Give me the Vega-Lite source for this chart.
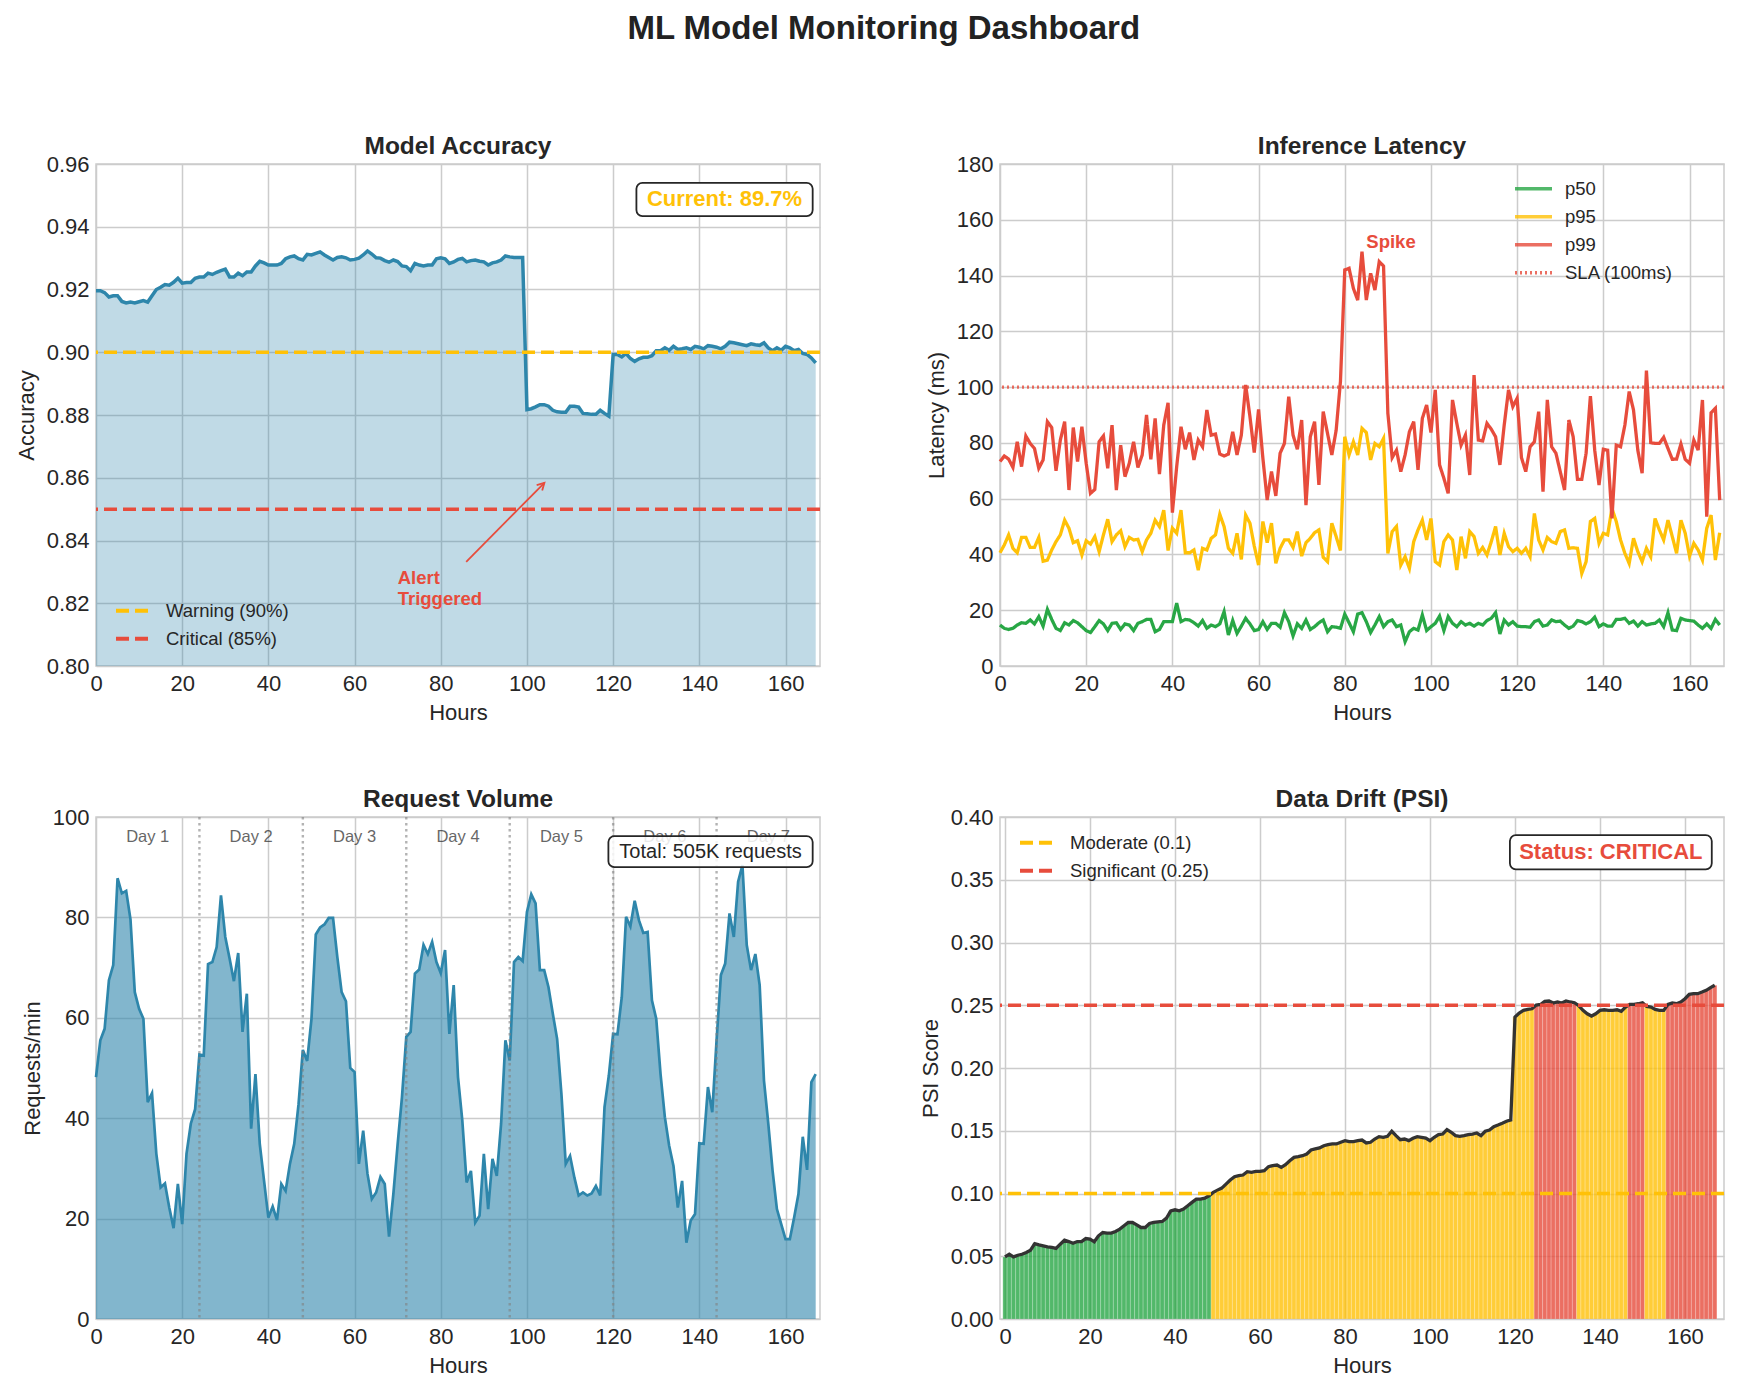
{
"$schema": "https://vega.github.io/schema/vega-lite/v6.json",
"background": "white",
"padding": {"left": 14, "top": 12, "right": 10, "bottom": 10},
"title": {"text": "ML Model Monitoring Dashboard", "fontSize": 33, "fontWeight": "bold", "color": "#222222", "anchor": "middle", "frame": "bounds", "baseline": "alphabetic", "offset": 61, "dx": 13},
"config": {
 "font": "Liberation Sans",
 "view": {"stroke": "#cccccc", "strokeWidth": 1.5},
 "axis": {"domain": false, "ticks": false, "grid": true, "gridColor": "#cccccc", "gridWidth": 1.5, "labelFontSize": 22, "labelColor": "#262626", "titleFontSize": 22, "titleFontWeight": "normal", "titleColor": "#262626", "labelPadding": 7, "titlePadding": 8, "labelFlush": false, "labelOverlap": false},
 "title": {"fontSize": 24.5, "fontWeight": "bold", "color": "#262626", "baseline": "alphabetic", "offset": -6, "anchor": "middle", "frame": "group"},
 "legend": {"labelFontSize": 18.5, "labelColor": "#262626", "symbolType": "stroke", "symbolSize": 1369, "symbolStrokeWidth": 4, "clipHeight": 25.5, "rowPadding": 2, "labelOffset": 11, "labelLimit": 0, "title": null, "padding": 0}
},
"resolve": {"scale": {"color": "independent", "strokeDash": "independent", "strokeWidth": "independent"}, "legend": {"color": "independent", "strokeDash": "independent", "strokeWidth": "independent"}},
"columns": 2,
"spacing": {"row": 151, "column": 180},
"bounds": "flush",
"datasets": {
"accuracy": [
{"hour":0,"accuracy":0.9196},{"hour":1,"accuracy":0.9196},{"hour":2,"accuracy":0.919},{"hour":3,"accuracy":0.9176},{"hour":4,"accuracy":0.918},{"hour":5,"accuracy":0.918},{"hour":6,"accuracy":0.9162},{"hour":7,"accuracy":0.9157},{"hour":8,"accuracy":0.916},{"hour":9,"accuracy":0.9157},
{"hour":10,"accuracy":0.9161},{"hour":11,"accuracy":0.9165},{"hour":12,"accuracy":0.916},{"hour":13,"accuracy":0.918},{"hour":14,"accuracy":0.92},{"hour":15,"accuracy":0.9207},{"hour":16,"accuracy":0.9216},{"hour":17,"accuracy":0.9214},{"hour":18,"accuracy":0.9223},{"hour":19,"accuracy":0.9236},
{"hour":20,"accuracy":0.922},{"hour":21,"accuracy":0.9222},{"hour":22,"accuracy":0.9222},{"hour":23,"accuracy":0.9236},{"hour":24,"accuracy":0.924},{"hour":25,"accuracy":0.924},{"hour":26,"accuracy":0.9252},{"hour":27,"accuracy":0.9248},{"hour":28,"accuracy":0.9255},{"hour":29,"accuracy":0.926},
{"hour":30,"accuracy":0.9265},{"hour":31,"accuracy":0.924},{"hour":32,"accuracy":0.924},{"hour":33,"accuracy":0.9252},{"hour":34,"accuracy":0.9244},{"hour":35,"accuracy":0.9256},{"hour":36,"accuracy":0.9256},{"hour":37,"accuracy":0.9275},{"hour":38,"accuracy":0.929},{"hour":39,"accuracy":0.9285},
{"hour":40,"accuracy":0.9278},{"hour":41,"accuracy":0.9278},{"hour":42,"accuracy":0.9278},{"hour":43,"accuracy":0.9283},{"hour":44,"accuracy":0.9298},{"hour":45,"accuracy":0.9304},{"hour":46,"accuracy":0.9307},{"hour":47,"accuracy":0.9298},{"hour":48,"accuracy":0.9294},{"hour":49,"accuracy":0.9312},
{"hour":50,"accuracy":0.931},{"hour":51,"accuracy":0.9315},{"hour":52,"accuracy":0.932},{"hour":53,"accuracy":0.931},{"hour":54,"accuracy":0.9302},{"hour":55,"accuracy":0.9294},{"hour":56,"accuracy":0.9302},{"hour":57,"accuracy":0.9304},{"hour":58,"accuracy":0.9301},{"hour":59,"accuracy":0.9294},
{"hour":60,"accuracy":0.9296},{"hour":61,"accuracy":0.93},{"hour":62,"accuracy":0.931},{"hour":63,"accuracy":0.9323},{"hour":64,"accuracy":0.9313},{"hour":65,"accuracy":0.9301},{"hour":66,"accuracy":0.93},{"hour":67,"accuracy":0.9292},{"hour":68,"accuracy":0.9287},{"hour":69,"accuracy":0.9294},
{"hour":70,"accuracy":0.9289},{"hour":71,"accuracy":0.9275},{"hour":72,"accuracy":0.9273},{"hour":73,"accuracy":0.926},{"hour":74,"accuracy":0.9283},{"hour":75,"accuracy":0.9278},{"hour":76,"accuracy":0.9275},{"hour":77,"accuracy":0.9278},{"hour":78,"accuracy":0.9278},{"hour":79,"accuracy":0.9298},
{"hour":80,"accuracy":0.9301},{"hour":81,"accuracy":0.9298},{"hour":82,"accuracy":0.9283},{"hour":83,"accuracy":0.9288},{"hour":84,"accuracy":0.9296},{"hour":85,"accuracy":0.9299},{"hour":86,"accuracy":0.9288},{"hour":87,"accuracy":0.9292},{"hour":88,"accuracy":0.9294},{"hour":89,"accuracy":0.929},
{"hour":90,"accuracy":0.9288},{"hour":91,"accuracy":0.9278},{"hour":92,"accuracy":0.9285},{"hour":93,"accuracy":0.9288},{"hour":94,"accuracy":0.9294},{"hour":95,"accuracy":0.9307},{"hour":96,"accuracy":0.9304},{"hour":97,"accuracy":0.9302},{"hour":98,"accuracy":0.9302},{"hour":99,"accuracy":0.9302},
{"hour":100,"accuracy":0.8817},{"hour":101,"accuracy":0.882},{"hour":102,"accuracy":0.8826},{"hour":103,"accuracy":0.8833},{"hour":104,"accuracy":0.8833},{"hour":105,"accuracy":0.8828},{"hour":106,"accuracy":0.8815},{"hour":107,"accuracy":0.881},{"hour":108,"accuracy":0.8809},{"hour":109,"accuracy":0.8809},
{"hour":110,"accuracy":0.8828},{"hour":111,"accuracy":0.8828},{"hour":112,"accuracy":0.8825},{"hour":113,"accuracy":0.8805},{"hour":114,"accuracy":0.8804},{"hour":115,"accuracy":0.8802},{"hour":116,"accuracy":0.8802},{"hour":117,"accuracy":0.8815},{"hour":118,"accuracy":0.8805},{"hour":119,"accuracy":0.8796},
{"hour":120,"accuracy":0.8993},{"hour":121,"accuracy":0.8993},{"hour":122,"accuracy":0.8985},{"hour":123,"accuracy":0.8996},{"hour":124,"accuracy":0.898},{"hour":125,"accuracy":0.8971},{"hour":126,"accuracy":0.8979},{"hour":127,"accuracy":0.8984},{"hour":128,"accuracy":0.8984},{"hour":129,"accuracy":0.8989},
{"hour":130,"accuracy":0.9005},{"hour":131,"accuracy":0.9005},{"hour":132,"accuracy":0.9014},{"hour":133,"accuracy":0.9006},{"hour":134,"accuracy":0.9019},{"hour":135,"accuracy":0.9009},{"hour":136,"accuracy":0.9011},{"hour":137,"accuracy":0.9014},{"hour":138,"accuracy":0.9009},{"hour":139,"accuracy":0.9019},
{"hour":140,"accuracy":0.9016},{"hour":141,"accuracy":0.9011},{"hour":142,"accuracy":0.9021},{"hour":143,"accuracy":0.9019},{"hour":144,"accuracy":0.9016},{"hour":145,"accuracy":0.9011},{"hour":146,"accuracy":0.9019},{"hour":147,"accuracy":0.9032},{"hour":148,"accuracy":0.903},{"hour":149,"accuracy":0.9027},
{"hour":150,"accuracy":0.9024},{"hour":151,"accuracy":0.9021},{"hour":152,"accuracy":0.9027},{"hour":153,"accuracy":0.9024},{"hour":154,"accuracy":0.9022},{"hour":155,"accuracy":0.903},{"hour":156,"accuracy":0.9014},{"hour":157,"accuracy":0.9005},{"hour":158,"accuracy":0.9014},{"hour":159,"accuracy":0.9006},
{"hour":160,"accuracy":0.9019},{"hour":161,"accuracy":0.9014},{"hour":162,"accuracy":0.9005},{"hour":163,"accuracy":0.9009},{"hour":164,"accuracy":0.8996},{"hour":165,"accuracy":0.8993},{"hour":166,"accuracy":0.8982},{"hour":167,"accuracy":0.8966}
],
"latency": [
{"hour":0,"p50":14.7,"p95":40.6,"p99":73.3},{"hour":1,"p50":13.5,"p95":43.4,"p99":75.3},{"hour":2,"p50":13.1,"p95":47,"p99":74.2},{"hour":3,"p50":13.5,"p95":42.2,"p99":71.2},{"hour":4,"p50":14.7,"p95":40.6,"p99":80.4},{"hour":5,"p50":15.5,"p95":46.1,"p99":71.5},{"hour":6,"p50":15.3,"p95":46.1,"p99":82.5},{"hour":7,"p50":16.5,"p95":42.5,"p99":79.8},{"hour":8,"p50":15.1,"p95":42.5,"p99":78},{"hour":9,"p50":17.7,"p95":46.1,"p99":70.9},
{"hour":10,"p50":14.3,"p95":37.6,"p99":73.9},{"hour":11,"p50":20.3,"p95":38,"p99":87.6},{"hour":12,"p50":16.7,"p95":41.6,"p99":85.5},{"hour":13,"p50":13.5,"p95":44.6,"p99":70},{"hour":14,"p50":12.7,"p95":47,"p99":81},{"hour":15,"p50":15.5,"p95":52.3,"p99":87.6},{"hour":16,"p50":14.7,"p95":49.4,"p99":63.1},{"hour":17,"p50":16.3,"p95":44.2,"p99":85.5},{"hour":18,"p50":15.5,"p95":44.9,"p99":73.3},{"hour":19,"p50":14.1,"p95":39.8,"p99":85.8},
{"hour":20,"p50":12.7,"p95":44.9,"p99":72.7},{"hour":21,"p50":12,"p95":43.7,"p99":61.9},{"hour":22,"p50":14.1,"p95":46.4,"p99":63.3},{"hour":23,"p50":16.3,"p95":41,"p99":80.4},{"hour":24,"p50":15.1,"p95":47,"p99":82.5},{"hour":25,"p50":12.7,"p95":52.6,"p99":70.9},{"hour":26,"p50":15.3,"p95":44.6,"p99":86.4},{"hour":27,"p50":15.5,"p95":47,"p99":63.1},{"hour":28,"p50":13.1,"p95":48.5,"p99":79.2},{"hour":29,"p50":15.1,"p95":42.8,"p99":67.9},
{"hour":30,"p50":14.7,"p95":46.1,"p99":72.7},{"hour":31,"p50":12.7,"p95":45.2,"p99":80.4},{"hour":32,"p50":15.3,"p95":45.4,"p99":71.2},{"hour":33,"p50":15.9,"p95":41,"p99":75.7},{"hour":34,"p50":16.7,"p95":45.2,"p99":90},{"hour":35,"p50":16.7,"p95":47.6,"p99":74.1},{"hour":36,"p50":12.3,"p95":52.3,"p99":88.8},{"hour":37,"p50":13.1,"p95":50,"p99":68.8},{"hour":38,"p50":15.9,"p95":55.9,"p99":86.4},{"hour":39,"p50":15.9,"p95":41.4,"p99":94.4},
{"hour":40,"p50":15.9,"p95":49.4,"p99":55},{"hour":41,"p50":22.5,"p95":47.6,"p99":71.5},{"hour":42,"p50":15.9,"p95":55.9,"p99":85.8},{"hour":43,"p50":16.7,"p95":40.6,"p99":77.7},{"hour":44,"p50":16.5,"p95":40.6,"p99":83.7},{"hour":45,"p50":15.5,"p95":41.6,"p99":73.9},{"hour":46,"p50":14.3,"p95":34.4,"p99":81},{"hour":47,"p50":16.3,"p95":42.2,"p99":78.6},{"hour":48,"p50":13.5,"p95":41.6,"p99":91.8},{"hour":49,"p50":14.7,"p95":45.8,"p99":82.8},
{"hour":50,"p50":14.1,"p95":47,"p99":83.2},{"hour":51,"p50":15.1,"p95":54.4,"p99":76},{"hour":52,"p50":19.5,"p95":50,"p99":75.3},{"hour":53,"p50":11.1,"p95":42.2,"p99":76},{"hour":54,"p50":16.3,"p95":40.4,"p99":84},{"hour":55,"p50":11.7,"p95":47.6,"p99":75.7},{"hour":56,"p50":14.3,"p95":38.2,"p99":82.8},{"hour":57,"p50":17.1,"p95":54.1,"p99":100.8},{"hour":58,"p50":15.1,"p95":51.2,"p99":89.4},{"hour":59,"p50":12.7,"p95":43,"p99":76.5},
{"hour":60,"p50":13.1,"p95":36.2,"p99":92},{"hour":61,"p50":15.9,"p95":51.8,"p99":74.5},{"hour":62,"p50":13.1,"p95":44.2,"p99":59.5},{"hour":63,"p50":15.3,"p95":51.2,"p99":69.7},{"hour":64,"p50":15.3,"p95":36.8,"p99":61},{"hour":65,"p50":13.9,"p95":42.2,"p99":76.3},{"hour":66,"p50":19.1,"p95":45.2,"p99":79.8},{"hour":67,"p50":15.9,"p95":45.2,"p99":96.6},{"hour":68,"p50":10.8,"p95":42.5,"p99":82.8},{"hour":69,"p50":15.1,"p95":48.2,"p99":77.7},
{"hour":70,"p50":13.5,"p95":39.4,"p99":88.2},{"hour":71,"p50":16.5,"p95":44.2,"p99":57.7},{"hour":72,"p50":13.1,"p95":45.8,"p99":82.2},{"hour":73,"p50":14.1,"p95":47.8,"p99":87.6},{"hour":74,"p50":15.5,"p95":48.8,"p99":64.9},{"hour":75,"p50":16.5,"p95":39,"p99":91.2},{"hour":76,"p50":12.3,"p95":37.4,"p99":83.4},{"hour":77,"p50":14.1,"p95":51.2,"p99":75.7},{"hour":78,"p50":13.9,"p95":46.4,"p99":84.5},{"hour":79,"p50":13.5,"p95":41.4,"p99":102},
{"hour":80,"p50":18.6,"p95":82.2,"p99":142},{"hour":81,"p50":15.5,"p95":75.7,"p99":142.6},{"hour":82,"p50":12.3,"p95":80.4,"p99":135.4},{"hour":83,"p50":18.6,"p95":75.7,"p99":131.2},{"hour":84,"p50":19.1,"p95":85.2,"p99":148.6},{"hour":85,"p50":15.9,"p95":83.7,"p99":131.2},{"hour":86,"p50":12,"p95":73.9,"p99":140.8},{"hour":87,"p50":14.7,"p95":79.8,"p99":134.8},{"hour":88,"p50":17.7,"p95":78.6,"p99":145},{"hour":89,"p50":14.1,"p95":81.6,"p99":143.4},
{"hour":90,"p50":15.9,"p95":40.4,"p99":90.6},{"hour":91,"p50":16.5,"p95":48.2,"p99":74.7},{"hour":92,"p50":14.1,"p95":50,"p99":77.4},{"hour":93,"p50":14.7,"p95":36.2,"p99":69.7},{"hour":94,"p50":8.7,"p95":39.2,"p99":75.7},{"hour":95,"p50":12.3,"p95":35,"p99":84},{"hour":96,"p50":13.5,"p95":44.6,"p99":87.6},{"hour":97,"p50":12.9,"p95":48.8,"p99":70.3},{"hour":98,"p50":18.3,"p95":52.3,"p99":88.8},{"hour":99,"p50":12.7,"p95":45.2,"p99":93.6},
{"hour":100,"p50":14.1,"p95":52.9,"p99":83.7},{"hour":101,"p50":15.3,"p95":37.4,"p99":99},{"hour":102,"p50":17.9,"p95":36.2,"p99":72.1},{"hour":103,"p50":12.7,"p95":44.6,"p99":67.3},{"hour":104,"p50":17.7,"p95":47,"p99":61.9},{"hour":105,"p50":15.3,"p95":45.2,"p99":95.4},{"hour":106,"p50":14.1,"p95":34.4,"p99":87},{"hour":107,"p50":15.9,"p95":46.4,"p99":79.2},{"hour":108,"p50":14.7,"p95":38.6,"p99":82.8},{"hour":109,"p50":15.3,"p95":48.2,"p99":68.5},
{"hour":110,"p50":14.3,"p95":46.4,"p99":104.3},{"hour":111,"p50":15.3,"p95":40.4,"p99":81},{"hour":112,"p50":14.7,"p95":42.5,"p99":80.7},{"hour":113,"p50":16.3,"p95":39.8,"p99":87},{"hour":114,"p50":17.1,"p95":44.6,"p99":84.9},{"hour":115,"p50":19.1,"p95":50,"p99":82.2},{"hour":116,"p50":11.5,"p95":39.8,"p99":72.1},{"hour":117,"p50":16.5,"p95":47.6,"p99":86.4},{"hour":118,"p50":14.7,"p95":42.8,"p99":99},{"hour":119,"p50":15.9,"p95":41,"p99":93},
{"hour":120,"p50":14.3,"p95":42.2,"p99":96},{"hour":121,"p50":14.1,"p95":40.4,"p99":74.7},{"hour":122,"p50":14.1,"p95":42.2,"p99":69.7},{"hour":123,"p50":13.9,"p95":39.2,"p99":78.6},{"hour":124,"p50":15.9,"p95":54.7,"p99":80.4},{"hour":125,"p50":16.5,"p95":45.2,"p99":91.2},{"hour":126,"p50":14.3,"p95":41.6,"p99":62.5},{"hour":127,"p50":14.7,"p95":46.1,"p99":95.4},{"hour":128,"p50":16.5,"p95":44.6,"p99":78.6},{"hour":129,"p50":15.9,"p95":44,"p99":76.3},
{"hour":130,"p50":16.1,"p95":48.2,"p99":69.7},{"hour":131,"p50":14.7,"p95":48.8,"p99":63.1},{"hour":132,"p50":13.5,"p95":42.2,"p99":88.2},{"hour":133,"p50":14.3,"p95":42.4,"p99":82.2},{"hour":134,"p50":16.3,"p95":42.2,"p99":66.9},{"hour":135,"p50":15.9,"p95":33.2,"p99":66.9},{"hour":136,"p50":15.1,"p95":37.4,"p99":76.3},{"hour":137,"p50":15.9,"p95":51.8,"p99":96.8},{"hour":138,"p50":17.5,"p95":52.9,"p99":77.4},{"hour":139,"p50":14.1,"p95":44,"p99":64.9},
{"hour":140,"p50":15.1,"p95":47.6,"p99":77.7},{"hour":141,"p50":14.3,"p95":47,"p99":77.4},{"hour":142,"p50":14.3,"p95":56.5,"p99":52.9},{"hour":143,"p50":16.7,"p95":51.8,"p99":79.2},{"hour":144,"p50":16.7,"p95":45.2,"p99":78.6},{"hour":145,"p50":17.1,"p95":40.4,"p99":86.4},{"hour":146,"p50":15.3,"p95":36.8,"p99":98.4},{"hour":147,"p50":16.1,"p95":45.8,"p99":91.8},{"hour":148,"p50":14.3,"p95":41,"p99":77.4},{"hour":149,"p50":15.9,"p95":37.4,"p99":69.1},
{"hour":150,"p50":14.7,"p95":42.2,"p99":105.9},{"hour":151,"p50":15.1,"p95":39.2,"p99":80.1},{"hour":152,"p50":15.3,"p95":52.9,"p99":79.8},{"hour":153,"p50":16.5,"p95":48.8,"p99":79.8},{"hour":154,"p50":14.1,"p95":45.2,"p99":82},{"hour":155,"p50":19.1,"p95":52.3,"p99":78},{"hour":156,"p50":12.9,"p95":46.4,"p99":74.1},{"hour":157,"p50":12.7,"p95":40.4,"p99":74.2},{"hour":158,"p50":17.1,"p95":52.3,"p99":79.6},{"hour":159,"p50":16.5,"p95":47.6,"p99":74.1},
{"hour":160,"p50":16.3,"p95":39.4,"p99":72.7},{"hour":161,"p50":16.1,"p95":44,"p99":81},{"hour":162,"p50":14.7,"p95":41.6,"p99":77.4},{"hour":163,"p50":13.5,"p95":38,"p99":95.4},{"hour":164,"p50":15.1,"p95":49.4,"p99":53.5},{"hour":165,"p50":13.5,"p95":54.1,"p99":90.8},{"hour":166,"p50":16.7,"p95":38,"p99":92.4},{"hour":167,"p50":14.7,"p95":47.8,"p99":59.5}
],
"requests": [
{"hour":0,"rpm":48.2},{"hour":1,"rpm":55.5},{"hour":2,"rpm":57.8},{"hour":3,"rpm":67.5},{"hour":4,"rpm":70.5},{"hour":5,"rpm":87.8},{"hour":6,"rpm":84.8},{"hour":7,"rpm":85.3},{"hour":8,"rpm":79.6},{"hour":9,"rpm":65.1},
{"hour":10,"rpm":61.8},{"hour":11,"rpm":59.8},{"hour":12,"rpm":43.2},{"hour":13,"rpm":45},{"hour":14,"rpm":32.9},{"hour":15,"rpm":26.2},{"hour":16,"rpm":27},{"hour":17,"rpm":22.2},{"hour":18,"rpm":18.1},{"hour":19,"rpm":26.9},
{"hour":20,"rpm":18.9},{"hour":21,"rpm":32.9},{"hour":22,"rpm":38.9},{"hour":23,"rpm":41.8},{"hour":24,"rpm":52.7},{"hour":25,"rpm":52.5},{"hour":26,"rpm":70.7},{"hour":27,"rpm":71.1},{"hour":28,"rpm":74.1},{"hour":29,"rpm":84.4},
{"hour":30,"rpm":76.1},{"hour":31,"rpm":71.8},{"hour":32,"rpm":67.3},{"hour":33,"rpm":72.9},{"hour":34,"rpm":57.2},{"hour":35,"rpm":64.8},{"hour":36,"rpm":37.9},{"hour":37,"rpm":48.8},{"hour":38,"rpm":34.9},{"hour":39,"rpm":27.5},
{"hour":40,"rpm":20.2},{"hour":41,"rpm":22.4},{"hour":42,"rpm":19.7},{"hour":43,"rpm":26.9},{"hour":44,"rpm":25.5},{"hour":45,"rpm":30.9},{"hour":46,"rpm":34.9},{"hour":47,"rpm":42.8},{"hour":48,"rpm":53.6},{"hour":49,"rpm":51.4},
{"hour":50,"rpm":59.8},{"hour":51,"rpm":76.6},{"hour":52,"rpm":78},{"hour":53,"rpm":78.6},{"hour":54,"rpm":79.9},{"hour":55,"rpm":79.9},{"hour":56,"rpm":72.1},{"hour":57,"rpm":65.1},{"hour":58,"rpm":63.3},{"hour":59,"rpm":50},
{"hour":60,"rpm":49.2},{"hour":61,"rpm":30.9},{"hour":62,"rpm":37.5},{"hour":63,"rpm":28.9},{"hour":64,"rpm":23.9},{"hour":65,"rpm":25.2},{"hour":66,"rpm":28.3},{"hour":67,"rpm":26.9},{"hour":68,"rpm":16.4},{"hour":69,"rpm":24.9},
{"hour":70,"rpm":34.9},{"hour":71,"rpm":44.2},{"hour":72,"rpm":56.2},{"hour":73,"rpm":57.2},{"hour":74,"rpm":68.8},{"hour":75,"rpm":69.6},{"hour":76,"rpm":74.5},{"hour":77,"rpm":72.7},{"hour":78,"rpm":75.1},{"hour":79,"rpm":71.1},
{"hour":80,"rpm":68.9},{"hour":81,"rpm":73.5},{"hour":82,"rpm":56.8},{"hour":83,"rpm":66.5},{"hour":84,"rpm":48.2},{"hour":85,"rpm":39.5},{"hour":86,"rpm":27.2},{"hour":87,"rpm":29.5},{"hour":88,"rpm":19.2},{"hour":89,"rpm":20.6},
{"hour":90,"rpm":32.9},{"hour":91,"rpm":21.9},{"hour":92,"rpm":31.9},{"hour":93,"rpm":28.5},{"hour":94,"rpm":38.9},{"hour":95,"rpm":55.5},{"hour":96,"rpm":51.5},{"hour":97,"rpm":71.1},{"hour":98,"rpm":72.1},{"hour":99,"rpm":71.3},
{"hour":100,"rpm":81.1},{"hour":101,"rpm":84.6},{"hour":102,"rpm":82.8},{"hour":103,"rpm":69.5},{"hour":104,"rpm":69.5},{"hour":105,"rpm":66.1},{"hour":106,"rpm":60.8},{"hour":107,"rpm":55.8},{"hour":108,"rpm":44.8},{"hour":109,"rpm":30.9},
{"hour":110,"rpm":32.5},{"hour":111,"rpm":28.2},{"hour":112,"rpm":24.6},{"hour":113,"rpm":25.2},{"hour":114,"rpm":24.6},{"hour":115,"rpm":25},{"hour":116,"rpm":26.5},{"hour":117,"rpm":24.6},{"hour":118,"rpm":42.2},{"hour":119,"rpm":48.5},
{"hour":120,"rpm":56.8},{"hour":121,"rpm":56.7},{"hour":122,"rpm":64.1},{"hour":123,"rpm":80.1},{"hour":124,"rpm":78.2},{"hour":125,"rpm":83.3},{"hour":126,"rpm":79.4},{"hour":127,"rpm":76.9},{"hour":128,"rpm":77.1},{"hour":129,"rpm":63.5},
{"hour":130,"rpm":59.8},{"hour":131,"rpm":48.8},{"hour":132,"rpm":40.2},{"hour":133,"rpm":34.5},{"hour":134,"rpm":30.5},{"hour":135,"rpm":22.2},{"hour":136,"rpm":27.5},{"hour":137,"rpm":15.2},{"hour":138,"rpm":19.6},{"hour":139,"rpm":20.9},
{"hour":140,"rpm":35},{"hour":141,"rpm":34.9},{"hour":142,"rpm":46.2},{"hour":143,"rpm":41.2},{"hour":144,"rpm":55.5},{"hour":145,"rpm":68.5},{"hour":146,"rpm":70.8},{"hour":147,"rpm":80.8},{"hour":148,"rpm":76.1},{"hour":149,"rpm":87.1},
{"hour":150,"rpm":90.4},{"hour":151,"rpm":74.5},{"hour":152,"rpm":69.5},{"hour":153,"rpm":72.7},{"hour":154,"rpm":66.5},{"hour":155,"rpm":47.5},{"hour":156,"rpm":38.9},{"hour":157,"rpm":29.5},{"hour":158,"rpm":21.9},{"hour":159,"rpm":18.9},
{"hour":160,"rpm":15.9},{"hour":161,"rpm":15.9},{"hour":162,"rpm":20.2},{"hour":163,"rpm":24.9},{"hour":164,"rpm":36.3},{"hour":165,"rpm":29.7},{"hour":166,"rpm":47.2},{"hour":167,"rpm":48.8}
],
"psi": [
{"hour":0,"psi":0.0495},{"hour":1,"psi":0.0516},{"hour":2,"psi":0.0495},{"hour":3,"psi":0.0508},{"hour":4,"psi":0.0516},{"hour":5,"psi":0.053},{"hour":6,"psi":0.0548},{"hour":7,"psi":0.0601},{"hour":8,"psi":0.0591},{"hour":9,"psi":0.0583},
{"hour":10,"psi":0.0575},{"hour":11,"psi":0.057},{"hour":12,"psi":0.0562},{"hour":13,"psi":0.0596},{"hour":14,"psi":0.0628},{"hour":15,"psi":0.0617},{"hour":16,"psi":0.0604},{"hour":17,"psi":0.0617},{"hour":18,"psi":0.0617},{"hour":19,"psi":0.0641},
{"hour":20,"psi":0.0636},{"hour":21,"psi":0.0615},{"hour":22,"psi":0.0663},{"hour":23,"psi":0.0689},{"hour":24,"psi":0.0684},{"hour":25,"psi":0.0684},{"hour":26,"psi":0.0697},{"hour":27,"psi":0.0716},{"hour":28,"psi":0.0743},{"hour":29,"psi":0.0769},
{"hour":30,"psi":0.0769},{"hour":31,"psi":0.075},{"hour":32,"psi":0.0729},{"hour":33,"psi":0.0729},{"hour":34,"psi":0.0761},{"hour":35,"psi":0.0769},{"hour":36,"psi":0.0774},{"hour":37,"psi":0.0777},{"hour":38,"psi":0.0804},{"hour":39,"psi":0.0862},
{"hour":40,"psi":0.087},{"hour":41,"psi":0.0862},{"hour":42,"psi":0.0876},{"hour":43,"psi":0.0902},{"hour":44,"psi":0.0929},{"hour":45,"psi":0.0955},{"hour":46,"psi":0.0955},{"hour":47,"psi":0.0963},{"hour":48,"psi":0.0982},{"hour":49,"psi":0.1009},
{"hour":50,"psi":0.1027},{"hour":51,"psi":0.1043},{"hour":52,"psi":0.1075},{"hour":53,"psi":0.1107},{"hour":54,"psi":0.1134},{"hour":55,"psi":0.1142},{"hour":56,"psi":0.1147},{"hour":57,"psi":0.1174},{"hour":58,"psi":0.1168},{"hour":59,"psi":0.1176},
{"hour":60,"psi":0.1176},{"hour":61,"psi":0.1182},{"hour":62,"psi":0.1214},{"hour":63,"psi":0.1222},{"hour":64,"psi":0.1227},{"hour":65,"psi":0.1208},{"hour":66,"psi":0.123},{"hour":67,"psi":0.1261},{"hour":68,"psi":0.1288},{"hour":69,"psi":0.1293},
{"hour":70,"psi":0.1301},{"hour":71,"psi":0.1315},{"hour":72,"psi":0.1347},{"hour":73,"psi":0.1355},{"hour":74,"psi":0.1363},{"hour":75,"psi":0.1381},{"hour":76,"psi":0.1389},{"hour":77,"psi":0.1395},{"hour":78,"psi":0.1395},{"hour":79,"psi":0.1408},
{"hour":80,"psi":0.1421},{"hour":81,"psi":0.1413},{"hour":82,"psi":0.1413},{"hour":83,"psi":0.1421},{"hour":84,"psi":0.1426},{"hour":85,"psi":0.1403},{"hour":86,"psi":0.1408},{"hour":87,"psi":0.1434},{"hour":88,"psi":0.1453},{"hour":89,"psi":0.1448},
{"hour":90,"psi":0.1456},{"hour":91,"psi":0.1496},{"hour":92,"psi":0.1461},{"hour":93,"psi":0.1429},{"hour":94,"psi":0.1434},{"hour":95,"psi":0.1421},{"hour":96,"psi":0.144},{"hour":97,"psi":0.1453},{"hour":98,"psi":0.1448},{"hour":99,"psi":0.1442},
{"hour":100,"psi":0.1421},{"hour":101,"psi":0.1448},{"hour":102,"psi":0.1469},{"hour":103,"psi":0.1474},{"hour":104,"psi":0.1509},{"hour":105,"psi":0.1488},{"hour":106,"psi":0.1461},{"hour":107,"psi":0.1456},{"hour":108,"psi":0.1461},{"hour":109,"psi":0.1469},
{"hour":110,"psi":0.1474},{"hour":111,"psi":0.1482},{"hour":112,"psi":0.1461},{"hour":113,"psi":0.1496},{"hour":114,"psi":0.1506},{"hour":115,"psi":0.1533},{"hour":116,"psi":0.1546},{"hour":117,"psi":0.156},{"hour":118,"psi":0.1576},{"hour":119,"psi":0.1586},
{"hour":120,"psi":0.2406},{"hour":121,"psi":0.2438},{"hour":122,"psi":0.2459},{"hour":123,"psi":0.2467},{"hour":124,"psi":0.2472},{"hour":125,"psi":0.2502},{"hour":126,"psi":0.2506},{"hour":127,"psi":0.2531},{"hour":128,"psi":0.2534},{"hour":129,"psi":0.2518},
{"hour":130,"psi":0.2526},{"hour":131,"psi":0.2518},{"hour":132,"psi":0.2534},{"hour":133,"psi":0.2526},{"hour":134,"psi":0.252},{"hour":135,"psi":0.2497},{"hour":136,"psi":0.2459},{"hour":137,"psi":0.2432},{"hour":138,"psi":0.2414},{"hour":139,"psi":0.2432},
{"hour":140,"psi":0.2459},{"hour":141,"psi":0.2464},{"hour":142,"psi":0.2459},{"hour":143,"psi":0.2459},{"hour":144,"psi":0.2464},{"hour":145,"psi":0.2451},{"hour":146,"psi":0.2486},{"hour":147,"psi":0.2507},{"hour":148,"psi":0.2507},{"hour":149,"psi":0.2512},
{"hour":150,"psi":0.252},{"hour":151,"psi":0.2491},{"hour":152,"psi":0.2486},{"hour":153,"psi":0.2467},{"hour":154,"psi":0.2459},{"hour":155,"psi":0.2459},{"hour":156,"psi":0.2507},{"hour":157,"psi":0.2518},{"hour":158,"psi":0.2512},{"hour":159,"psi":0.2526},
{"hour":160,"psi":0.2552},{"hour":161,"psi":0.2587},{"hour":162,"psi":0.2592},{"hour":163,"psi":0.2592},{"hour":164,"psi":0.2605},{"hour":165,"psi":0.2619},{"hour":166,"psi":0.264},{"hour":167,"psi":0.2659}
]
},
"concat": [
{
 "width": 724, "height": 502,
 "title": {"text": "Model Accuracy"},
 "layer": [
  {"data": {"name": "accuracy"},
   "mark": {"type": "area", "color": "#2e86ab", "opacity": 0.3},
   "encoding": {
    "x": {"field": "hour", "type": "quantitative", "scale": {"domain": [0, 168], "nice": false}, "axis": {"values": [0,20,40,60,80,100,120,140,160], "title": "Hours"}},
    "y": {"field": "accuracy", "type": "quantitative", "scale": {"domain": [0.8, 0.96], "nice": false, "zero": false}, "axis": {"values": [0.8,0.82,0.84,0.86,0.88,0.9,0.92,0.94,0.96], "format": ".2f", "title": "Accuracy"}},
    "y2": {"datum": 0.8}
   }},
  {"data": {"name": "accuracy"},
   "mark": {"type": "line", "color": "#2e86ab", "strokeWidth": 3.5},
   "encoding": {"x": {"field": "hour", "type": "quantitative"}, "y": {"field": "accuracy", "type": "quantitative"}}},
  {"data": {"values": [{"threshold": "Warning (90%)", "accuracy": 0.9}, {"threshold": "Critical (85%)", "accuracy": 0.85}]},
   "mark": {"type": "rule", "strokeWidth": 3.5},
   "encoding": {
    "y": {"field": "accuracy", "type": "quantitative"},
    "color": {"field": "threshold", "type": "nominal", "scale": {"domain": ["Warning (90%)", "Critical (85%)"], "range": ["#ffc107", "#e74c3c"]}, "legend": {"orient": "none", "legendX": 18, "legendY": 434}},
    "strokeDash": {"field": "threshold", "type": "nominal", "scale": {"domain": ["Warning (90%)", "Critical (85%)"], "range": [[13, 6], [13, 6]]}, "legend": {"orient": "none", "legendX": 18, "legendY": 434}}
   }},
  {"data": {"values": [{"x1": 125.4, "x2": 166.3, "y1": 0.9434, "y2": 0.954}]},
   "mark": {"type": "rect", "fill": "white", "stroke": "#262626", "strokeWidth": 1.8, "cornerRadius": 6},
   "encoding": {"x": {"field": "x1", "type": "quantitative"}, "x2": {"field": "x2"}, "y": {"field": "y1", "type": "quantitative"}, "y2": {"field": "y2"}}},
  {"data": {"values": [{"hour": 145.85, "accuracy": 0.9487, "label": "Current: 89.7%"}]},
   "mark": {"type": "text", "fontSize": 22, "fontWeight": "bold", "color": "#ffc107", "align": "center", "baseline": "middle"},
   "encoding": {"x": {"field": "hour", "type": "quantitative"}, "y": {"field": "accuracy", "type": "quantitative"}, "text": {"field": "label"}}},
  {"data": {"values": [{"hour": 70, "accuracy": 0.8248, "label": "Alert\nTriggered"}]},
   "mark": {"type": "text", "fontSize": 18.5, "fontWeight": "bold", "color": "#e74c3c", "align": "left", "baseline": "bottom", "lineBreak": "\n", "lineHeight": 21},
   "encoding": {"x": {"field": "hour", "type": "quantitative"}, "y": {"field": "accuracy", "type": "quantitative"}, "text": {"field": "label"}}},
  {"data": {"values": [{"x1": 85.9, "y1": 0.8332, "x2": 104.05, "y2": 0.8584}]},
   "mark": {"type": "rule", "color": "#e74c3c", "strokeWidth": 1.8},
   "encoding": {"x": {"field": "x1", "type": "quantitative"}, "x2": {"field": "x2"}, "y": {"field": "y1", "type": "quantitative"}, "y2": {"field": "y2"}}},
  {"data": {"values": [{"hour": 104.05, "accuracy": 0.8584}]},
   "mark": {"type": "point", "shape": "M-0.55,1L0,0L0.55,1", "size": 200, "angle": 44.7, "filled": false, "color": "#e74c3c", "strokeWidth": 1.8, "opacity": 1},
   "encoding": {"x": {"field": "hour", "type": "quantitative"}, "y": {"field": "accuracy", "type": "quantitative"}}}
 ]
},
{
 "width": 724, "height": 502,
 "title": {"text": "Inference Latency"},
 "layer": [
  {"data": {"name": "latency"},
   "transform": [{"fold": ["p50", "p95", "p99"], "as": ["metric", "ms"]}],
   "mark": {"type": "line"},
   "encoding": {
    "x": {"field": "hour", "type": "quantitative", "scale": {"domain": [0, 168], "nice": false}, "axis": {"values": [0,20,40,60,80,100,120,140,160], "title": "Hours"}},
    "y": {"field": "ms", "type": "quantitative", "scale": {"domain": [0, 180], "nice": false}, "axis": {"values": [0,20,40,60,80,100,120,140,160,180], "title": "Latency (ms)"}},
    "color": {"field": "metric", "type": "nominal", "scale": {"domain": ["p50", "p95", "p99", "SLA (100ms)"], "range": ["#28a745", "#ffc107", "#e74c3c", "#e74c3c"]}, "legend": {"orient": "none", "legendX": 513, "legendY": 12}},
    "strokeDash": {"field": "metric", "type": "nominal", "scale": {"domain": ["p50", "p95", "p99", "SLA (100ms)"], "range": [[1, 0], [1, 0], [1, 0], [2, 3]]}, "legend": {"orient": "none", "legendX": 513, "legendY": 12}},
    "strokeWidth": {"field": "metric", "type": "nominal", "scale": {"domain": ["p50", "p95", "p99", "SLA (100ms)"], "range": [3.3, 3.3, 3.3, 1.5]}, "legend": {"orient": "none", "legendX": 513, "legendY": 12}}
   }},
  {"data": {"values": [{"metric": "SLA (100ms)", "ms": 100}]},
   "mark": {"type": "rule", "opacity": 0.8},
   "encoding": {
    "y": {"field": "ms", "type": "quantitative"},
    "color": {"field": "metric", "type": "nominal"},
    "strokeDash": {"field": "metric", "type": "nominal"},
    "strokeWidth": {"field": "metric", "type": "nominal"}
   }},
  {"data": {"values": [{"hour": 85, "ms": 150, "label": "Spike"}]},
   "mark": {"type": "text", "fontSize": 18.5, "fontWeight": "bold", "color": "#e74c3c", "align": "left", "baseline": "alphabetic"},
   "encoding": {"x": {"field": "hour", "type": "quantitative"}, "y": {"field": "ms", "type": "quantitative"}, "text": {"field": "label"}}}
 ]
},
{
 "width": 724, "height": 502,
 "title": {"text": "Request Volume"},
 "layer": [
  {"data": {"name": "requests"},
   "mark": {"type": "area", "color": "#2e86ab", "opacity": 0.6},
   "encoding": {
    "x": {"field": "hour", "type": "quantitative", "scale": {"domain": [0, 168], "nice": false}, "axis": {"values": [0,20,40,60,80,100,120,140,160], "title": "Hours"}},
    "y": {"field": "rpm", "type": "quantitative", "scale": {"domain": [0, 100], "nice": false}, "axis": {"values": [0,20,40,60,80,100], "title": "Requests/min"}}
   }},
  {"data": {"name": "requests"},
   "mark": {"type": "line", "color": "#2e86ab", "strokeWidth": 2.7},
   "encoding": {"x": {"field": "hour", "type": "quantitative"}, "y": {"field": "rpm", "type": "quantitative"}}},
  {"data": {"values": [{"hour": 24}, {"hour": 48}, {"hour": 72}, {"hour": 96}, {"hour": 120}, {"hour": 144}]},
   "mark": {"type": "rule", "color": "#808080", "opacity": 0.6, "strokeWidth": 2.4, "strokeDash": [2.5, 3.5]},
   "encoding": {"x": {"field": "hour", "type": "quantitative"}}},
  {"data": {"values": [{"hour": 12, "rpm": 95, "label": "Day 1"}, {"hour": 36, "rpm": 95, "label": "Day 2"}, {"hour": 60, "rpm": 95, "label": "Day 3"}, {"hour": 84, "rpm": 95, "label": "Day 4"}, {"hour": 108, "rpm": 95, "label": "Day 5"}, {"hour": 132, "rpm": 95, "label": "Day 6"}, {"hour": 156, "rpm": 95, "label": "Day 7"}]},
   "mark": {"type": "text", "fontSize": 16.5, "color": "#262626", "opacity": 0.7, "align": "center", "baseline": "alphabetic"},
   "encoding": {"x": {"field": "hour", "type": "quantitative"}, "y": {"field": "rpm", "type": "quantitative"}, "text": {"field": "label"}}},
  {"data": {"values": [{"x1": 118.9, "x2": 166.3, "y1": 90.0, "y2": 96.2}]},
   "mark": {"type": "rect", "fill": "white", "fillOpacity": 0.85, "stroke": "#262626", "strokeWidth": 1.8, "cornerRadius": 6},
   "encoding": {"x": {"field": "x1", "type": "quantitative"}, "x2": {"field": "x2"}, "y": {"field": "y1", "type": "quantitative"}, "y2": {"field": "y2"}}},
  {"data": {"values": [{"hour": 142.6, "rpm": 93.1, "label": "Total: 505K requests"}]},
   "mark": {"type": "text", "fontSize": 20, "color": "#262626", "align": "center", "baseline": "middle"},
   "encoding": {"x": {"field": "hour", "type": "quantitative"}, "y": {"field": "rpm", "type": "quantitative"}, "text": {"field": "label"}}}
 ]
},
{
 "width": 724, "height": 502,
 "title": {"text": "Data Drift (PSI)"},
 "layer": [
  {"data": {"name": "psi"},
   "mark": {"type": "bar", "width": 4.31, "opacity": 0.8, "stroke": "white", "strokeWidth": 0.5, "strokeOpacity": 0.5},
   "encoding": {
    "x": {"field": "hour", "type": "quantitative", "scale": {"domain": [0, 168], "nice": false}, "axis": {"values": [0,20,40,60,80,100,120,140,160], "title": "Hours"}},
    "y": {"field": "psi", "type": "quantitative", "scale": {"domain": [0, 0.4], "nice": false}, "axis": {"values": [0,0.05,0.1,0.15,0.2,0.25,0.3,0.35,0.4], "format": ".2f", "title": "PSI Score"}},
    "color": {"condition": [{"test": "datum.psi >= 0.25", "value": "#e74c3c"}, {"test": "datum.psi >= 0.1", "value": "#ffc107"}], "value": "#28a745"}
   }},
  {"data": {"name": "psi"},
   "mark": {"type": "line", "color": "#333333", "strokeWidth": 3.3},
   "encoding": {"x": {"field": "hour", "type": "quantitative"}, "y": {"field": "psi", "type": "quantitative"}}},
  {"data": {"values": [{"threshold": "Moderate (0.1)", "psi": 0.1}, {"threshold": "Significant (0.25)", "psi": 0.25}]},
   "mark": {"type": "rule", "strokeWidth": 3.5},
   "encoding": {
    "y": {"field": "psi", "type": "quantitative"},
    "color": {"field": "threshold", "type": "nominal", "scale": {"domain": ["Moderate (0.1)", "Significant (0.25)"], "range": ["#ffc107", "#e74c3c"]}, "legend": {"orient": "none", "legendX": 18, "legendY": 13}},
    "strokeDash": {"field": "threshold", "type": "nominal", "scale": {"domain": ["Moderate (0.1)", "Significant (0.25)"], "range": [[13, 6], [13, 6]]}, "legend": {"orient": "none", "legendX": 18, "legendY": 13}}
   }},
  {"data": {"values": [{"x1": 118.8, "x2": 166.3, "y1": 0.3583, "y2": 0.3856}]},
   "mark": {"type": "rect", "fill": "white", "stroke": "#262626", "strokeWidth": 1.8, "cornerRadius": 6},
   "encoding": {"x": {"field": "x1", "type": "quantitative"}, "x2": {"field": "x2"}, "y": {"field": "y1", "type": "quantitative"}, "y2": {"field": "y2"}}},
  {"data": {"values": [{"hour": 142.55, "psi": 0.372, "label": "Status: CRITICAL"}]},
   "mark": {"type": "text", "fontSize": 22, "fontWeight": "bold", "color": "#e74c3c", "align": "center", "baseline": "middle"},
   "encoding": {"x": {"field": "hour", "type": "quantitative"}, "y": {"field": "psi", "type": "quantitative"}, "text": {"field": "label"}}}
 ]
}
]
}
